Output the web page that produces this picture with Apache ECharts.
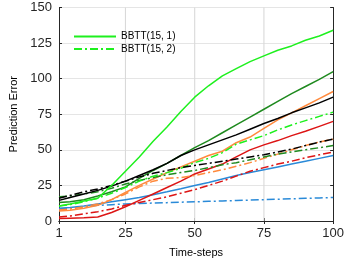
<!DOCTYPE html>
<html><head><meta charset="utf-8">
<script src="https://cdn.jsdelivr.net/npm/echarts@6/dist/echarts.min.js"></script>
<style>html,body{margin:0;padding:0;background:#fff}#c{width:347px;height:263px}</style>
</head><body><div id="c"></div>
<script>
var steps = [1,5,10,15,20,25,30,35,40,45,50,55,60,65,70,75,80,85,90,95,100];
var xTicks = [1,25,50,75,100];
var xGrid = [25,50,75];
var yRange = [0,150];
var seriesNames = ['BBTT(15, 1)','BBTT(15, 2)'];

var brightGreenSolid = [10.5,12,14,16,25,35,45,56,66,77,87,95,102,107,112,116,120,123,127,130,134];
var brightGreenDash  = [10.5,11.5,13.5,16,19.5,23.5,28,31.5,34,37,41,44,48,54,57,60,64,67.5,70.5,73.5,76.5];
var darkGreenSolid   = [13,13.5,15,17.5,20.5,24,30,35.5,40.5,46,51.5,56.5,62,67.5,73,78.5,84,89.5,94.5,99.5,105];
var darkGreenDash    = [17,17.5,19,20.5,23,26,28.5,30.5,32.5,34,35.5,37.5,39.5,41,43,45,47,48.5,50,51.5,53];
var blackSolid       = [14.5,16.5,19,21.5,24.5,28,32,36,40.5,46,50,53.5,57,60.5,64.5,68.5,72,76,79.5,83,87];
var blackDash        = [16,18,20.5,22.5,25,28,31,33.5,35.5,37.5,39,40.5,42,43.5,45,46.5,48.5,50.5,53,55.5,57.5];
var orangeSolid      = [7,7.5,9,11,15,20,25,29.5,34,38,42,46,49,55,59,65,71,76,81,86,91];
var orangeDash       = [7.8,8.5,10,12,15,19,24,28,30,30.5,32,34,36,38.5,41,44,47,50,53,55.5,57.5];
var redSolid         = [1.7,2,2.3,2.8,6,10,14.5,19,23.5,28,33,36.5,40,45,50,53.5,56.5,60,63,66.5,70];
var redDash          = [2.8,3.5,5,6.5,8.5,11,13,15,17,19.5,22,25,28,31.5,35,37.5,40,42,44.5,46.5,48.5];
var blueSolid        = [9,9.5,10.5,12,13.5,15,16.5,18.5,20.5,22.7,25,27,29.5,32,34,36,38,40,42,44,46];
var blueDash         = [8.5,9,10,11,11.5,12,12.3,12.6,12.9,13.2,13.5,13.8,14.1,14.4,14.7,15,15.3,15.6,15.9,16.2,16.5];

function pts(v){ return steps.map(function(s,i){ return [s, v[i]]; }); }
var DASHDOT = [8,3,2,3];
function mk(name, vals, color, dashed, z){
  return {
    name: name, type: 'line', data: pts(vals), symbol: 'none', showSymbol: false,
    z: z, animation: false,
    lineStyle: { color: color, width: 1.5, type: dashed ? DASHDOT : 'solid' },
    itemStyle: { color: color }
  };
}
var cBright = '#1ef01e', cDark = '#1f8a1f', cBlack = '#000000', cOrange = '#ff8a3d', cRed = '#dd1515', cBlue = '#2a8ad8';

var gridSeries = xGrid.map(function(v){
  return {
    name: 'vgrid' + v, type: 'line', z: 1, silent: true, animation: false,
    data: [[v, yRange[0]], [v, yRange[1]]], symbol: 'none', showSymbol: false,
    lineStyle: { color: '#d9d9d9', width: 1.1 }, emphasis: { disabled: true }
  };
});

var series = gridSeries.concat([
  mk('blueDash', blueDash, cBlue, true, 2),
  mk('blueSolid', blueSolid, cBlue, false, 2),
  mk('redDash', redDash, cRed, true, 2),
  mk('redSolid', redSolid, cRed, false, 2),
  mk('orangeDash', orangeDash, cOrange, true, 2),
  mk('orangeSolid', orangeSolid, cOrange, false, 2),
  mk('darkGreenDash', darkGreenDash, cDark, true, 2),
  mk('darkGreenSolid', darkGreenSolid, cDark, false, 2),
  mk(seriesNames[1], brightGreenDash, cBright, true, 3),
  mk('blackDash', blackDash, cBlack, true, 3),
  mk('blackSolid', blackSolid, cBlack, false, 3),
  mk(seriesNames[0], brightGreenSolid, cBright, false, 3)
]);

var axisCol = '#262626';
var font = 'Liberation Sans, Arial, sans-serif';
var chart = echarts.init(document.getElementById('c'), null, {renderer:'canvas'});
chart.setOption({
  animation: false,
  backgroundColor: '#fff',
  grid: { left: 46, right: 11, top: 7.5, bottom: 35.5, containLabel: false },
  legend: {
    data: [seriesNames[0], seriesNames[1]],
    orient: 'vertical', left: 68, top: 26.5,
    itemWidth: 42, itemHeight: 10, itemGap: 2.6,
    itemStyle: { opacity: 0 },
    textStyle: { fontSize: 10, color: '#000', fontFamily: font },
    backgroundColor: 'transparent'
  },
  xAxis: [{
    type: 'value', min: 1, max: 100, name: 'Time-steps', nameLocation: 'middle', nameGap: 26,
    nameTextStyle: { fontSize: 11, color: '#000', fontFamily: font },
    axisLine: { show: true, lineStyle: { color: axisCol, width: 1 } },
    axisTick: { show: true, inside: true, length: 3, customValues: xTicks, lineStyle: { color: axisCol } },
    axisLabel: { customValues: xTicks, fontSize: 13, color: '#262626', fontFamily: font, margin: 6 },
    splitLine: { show: false }
  },{
    type: 'value', min: 1, max: 100, position: 'top',
    axisLine: { show: true, lineStyle: { color: axisCol, width: 1 } },
    axisTick: { show: true, inside: true, length: 3, customValues: xTicks, lineStyle: { color: axisCol } },
    axisLabel: { show: false, customValues: xTicks },
    splitLine: { show: false }
  }],
  yAxis: [{
    type: 'value', min: yRange[0], max: yRange[1], interval: 25, name: 'Prediction Error', nameLocation: 'middle', nameGap: 40,
    nameTextStyle: { fontSize: 11, color: '#000', fontFamily: font },
    axisLine: { show: true, lineStyle: { color: axisCol, width: 1 } },
    axisTick: { show: true, inside: true, length: 3, lineStyle: { color: axisCol } },
    axisLabel: { fontSize: 13, color: '#262626', fontFamily: font, margin: 7 },
    splitLine: { show: true, lineStyle: { color: '#e5e5e5', width: 1 } }
  },{
    type: 'value', min: yRange[0], max: yRange[1], interval: 25, position: 'right',
    axisLine: { show: true, lineStyle: { color: axisCol, width: 1 } },
    axisTick: { show: true, inside: true, length: 3, lineStyle: { color: axisCol } },
    axisLabel: { show: false },
    splitLine: { show: false }
  }],
  series: series
});
</script></body></html>
